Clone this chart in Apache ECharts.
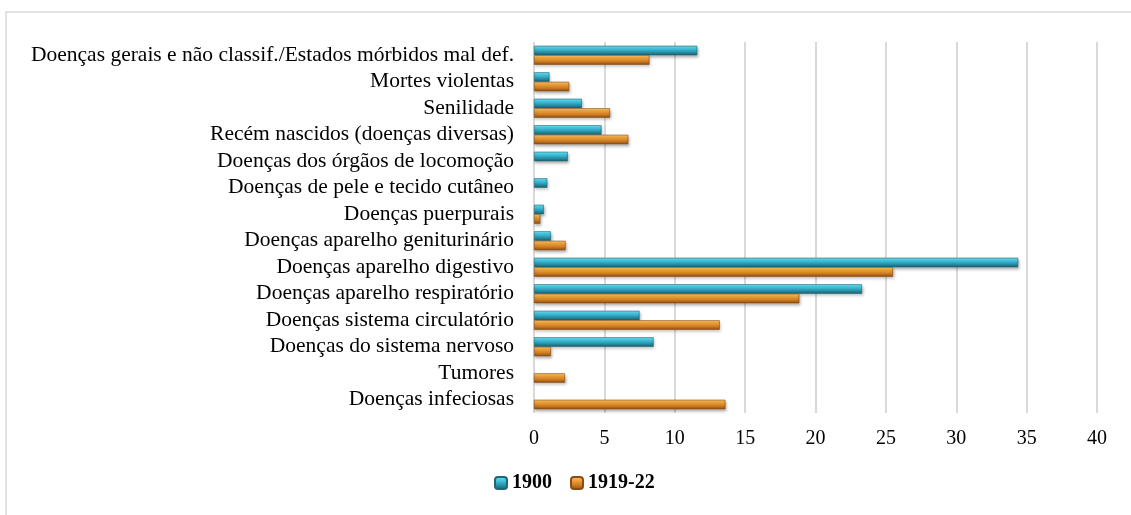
<!DOCTYPE html>
<html>
<head>
<meta charset="utf-8">
<script src="https://cdn.jsdelivr.net/npm/echarts@6/dist/echarts.min.js"></script>
<style>
html,body{margin:0;padding:0;background:#fff;}
#barCharts{width:1131px;height:515px;}
</style>
</head>
<body>
<div id="barCharts"></div>
<script>
// categorias de cima para baixo
var categorias = [
	'Doenças gerais e não classif./Estados mórbidos mal def.',
	'Mortes violentas',
	'Senilidade',
	'Recém nascidos (doenças diversas)',
	'Doenças dos órgãos de locomoção',
	'Doenças de pele e tecido cutâneo',
	'Doenças puerpurais',
	'Doenças aparelho geniturinário',
	'Doenças aparelho digestivo',
	'Doenças aparelho respiratório',
	'Doenças sistema circulatório',
	'Doenças do sistema nervoso',
	'Tumores',
	'Doenças infeciosas'
];
var valores1900 = [11.6, 1.1, 3.4, 4.8, 2.4, 0.95, 0.7, 1.2, 34.4, 23.3, 7.5, 8.5, null, null];
var valores1919 = [8.2, 2.5, 5.4, 6.7, null, null, 0.45, 2.25, 25.5, 18.85, 13.2, 1.2, 2.2, 13.6];
var ticksX = [0, 5, 10, 15, 20, 25, 30, 35, 40];

function grad(c1, c2, c3, c4) {
	return new echarts.graphic.LinearGradient(0, 0, 0, 1, [
		{offset: 0, color: c1},
		{offset: 0.3, color: c2},
		{offset: 0.65, color: c3},
		{offset: 1, color: c4}
	]);
}
var corAzul = grad('#6fe3f7', '#45c9e4', '#2a94ab', '#1c5d6c');
var corLaranja = grad('#fcc86a', '#f3a43c', '#cf7c22', '#8a4e14');

var mybarCharts = echarts.init(document.getElementById('barCharts'));
var option = {
	backgroundColor: '#fff',
	animation: false,
	textStyle: {fontFamily: 'Liberation Serif', color: '#000'},
	graphic: [{
		type: 'rect',
		shape: {x: 6, y: 12, width: 1140, height: 520},
		style: {fill: 'none', stroke: '#d9d9d9', lineWidth: 1.5}
	}],
	legend: {
		data: ['1900', '1919-22'],
		top: 468,
		left: 489,
		itemWidth: 12,
		itemHeight: 12,
		itemGap: 18,
		textStyle: {fontFamily: 'Liberation Serif', fontSize: 20, fontWeight: 'bold', color: '#000'}
	},
	grid: {left: 534, right: 34, top: 42, bottom: 102},
	xAxis: {
		type: 'value',
		min: 0,
		max: 40,
		interval: 5,
		axisLine: {show: false},
		axisTick: {show: false},
		axisLabel: {
			fontFamily: 'Liberation Serif', fontSize: 20, color: '#000', margin: 16,
			formatter: function(v) { return ticksX.indexOf(v) >= 0 ? String(v) : ''; }
		},
		splitLine: {show: true, lineStyle: {color: '#d9d9d9', width: 2}}
	},
	yAxis: {
		type: 'category',
		inverse: true,
		data: categorias,
		axisLine: {show: false},
		axisTick: {show: false},
		axisLabel: {fontFamily: 'Liberation Serif', fontSize: 21.5, color: '#000', margin: 20, interval: 0}
	},
	series: [
		{
			name: '1900',
			type: 'bar',
			barWidth: 9.5,
			barGap: '0%',
			data: valores1900,
			itemStyle: {
				color: corAzul,
				borderColor: '#1f6676',
				borderWidth: 0.6,
				shadowColor: 'rgba(0,0,0,0.3)',
				shadowBlur: 3,
				shadowOffsetX: 1,
				shadowOffsetY: 2
			}
		},
		{
			name: '1919-22',
			type: 'bar',
			barWidth: 9.5,
			barGap: '0%',
			data: valores1919,
			itemStyle: {
				color: corLaranja,
				borderColor: '#8a4e14',
				borderWidth: 0.6,
				shadowColor: 'rgba(0,0,0,0.3)',
				shadowBlur: 3,
				shadowOffsetX: 1,
				shadowOffsetY: 2
			}
		}
	]
};
mybarCharts.setOption(option);
</script>
</body>
</html>
